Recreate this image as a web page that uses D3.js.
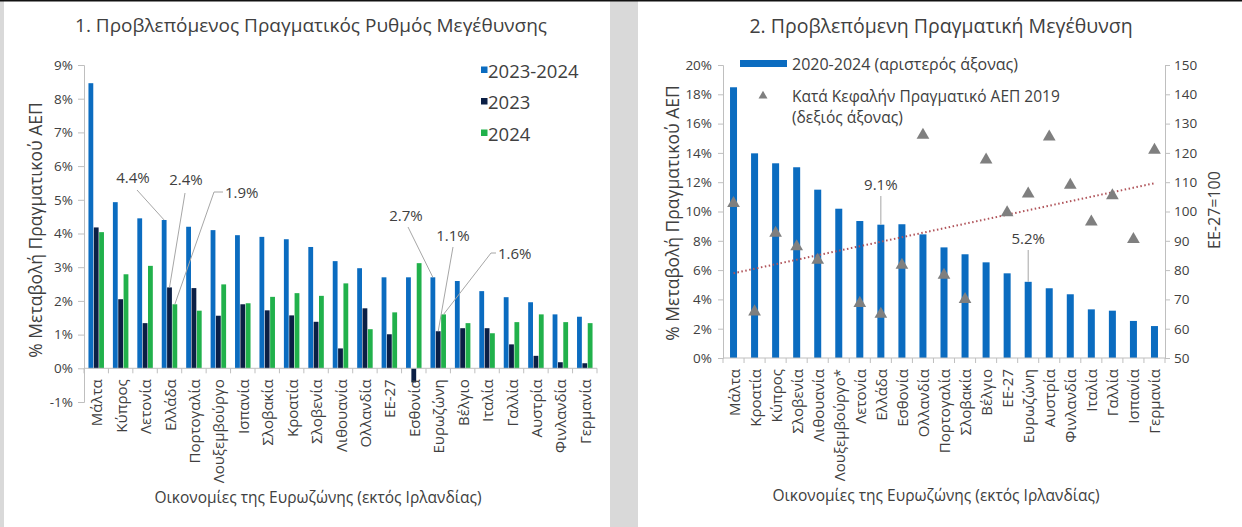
<!DOCTYPE html>
<html>
<head>
<meta charset="utf-8">
<script src="https://cdn.jsdelivr.net/npm/d3@7"></script>
<style>
    body { margin: 0; background: #d9d9d9; }
    svg { display: block; }
    text { font-family: 'Open Sans', 'Noto Sans', sans-serif; fill: #404040; }
</style>
</head>
<body>
<svg id="vis" width="1242" height="527"></svg>
<script>
/**
 * Data: chart 1 (growth 2023-2024).
 */
const growthCountries = ['Μάλτα', 'Κύπρος', 'Λετονία', 'Ελλάδα', 'Πορτογαλία', 'Λουξεμβούργο', 'Ισπανία',
    'Σλοβακία', 'Κροατία', 'Σλοβενία', 'Λιθουανία', 'Ολλανδία', 'ΕΕ-27', 'Εσθονία', 'Ευρωζώνη', 'Βέλγιο',
    'Ιταλία', 'Γαλλία', 'Αυστρία', 'Φινλανδία', 'Γερμανία'];
const growth2324 = [8.46, 4.93, 4.45, 4.4, 4.2, 4.1, 3.95, 3.9, 3.83, 3.6, 3.18, 2.97, 2.7, 2.7, 2.7, 2.59,
    2.29, 2.11, 1.96, 1.6, 1.53];
const growth23 = [4.18, 2.05, 1.34, 2.4, 2.38, 1.56, 1.9, 1.72, 1.57, 1.38, 0.59, 1.78, 1.01, -0.42, 1.1, 1.19,
    1.19, 0.71, 0.37, 0.18, 0.15];
const growth24 = [4.04, 2.79, 3.04, 1.9, 1.71, 2.49, 1.93, 2.12, 2.23, 2.15, 2.52, 1.16, 1.66, 3.12, 1.6, 1.34,
    1.04, 1.37, 1.6, 1.37, 1.34];
const growthSeries = ['2023-2024', '2023', '2024'];
const growthTicks = [-1, 0, 1, 2, 3, 4, 5, 6, 7, 8, 9];

/**
 * Data: chart 2 (cumulative growth 2020-2024 and GDP per capita 2019).
 */
const cumCountries = ['Μάλτα', 'Κροατία', 'Κύπρος', 'Σλοβενία', 'Λιθουανία', 'Λουξεμβούργο*', 'Λετονία',
    'Ελλάδα', 'Εσθονία', 'Ολλανδία', 'Πορτογαλία', 'Σλοβακία', 'Βέλγιο', 'ΕΕ-27', 'Ευρωζώνη', 'Αυστρία',
    'Φινλανδία', 'Ιταλία', 'Γαλλία', 'Ισπανία', 'Γερμανία'];
const cumGrowth = [18.48, 13.97, 13.29, 13.02, 11.49, 10.19, 9.35, 9.1, 9.13, 8.44, 7.55, 7.08, 6.53, 5.78,
    5.2, 4.76, 4.35, 3.32, 3.23, 2.53, 2.18];
const gdpPerCapita = [102.8, 65.8, 92.6, 88.0, 83.4, null, 68.7, 65.0, 81.7, 126.1, 78.3, 70.0, 117.6, 99.6,
    106.0, 125.5, 109.0, 96.5, 105.4, 90.5, 121.0];
const cumTicks = [0, 2, 4, 6, 8, 10, 12, 14, 16, 18, 20];
const gdpTicks = [50, 60, 70, 80, 90, 100, 110, 120, 130, 140, 150];

/**
 * Visual configs.
 */
const colors = { '2023-2024': '#0b6cc0', '2023': '#0b1f45', '2024': '#21b14b' },
    axisColor = '#bfbfbf',
    tickTextColor = '#595959',
    leaderColor = '#a6a6a6',
    triangleColor = '#7f7f7f',
    trendColor = '#b0545a';

const svg = d3.select('#vis');

// Panels
svg.append('rect').attr('x', 0).attr('y', 0).attr('width', 1242).attr('height', 527).attr('fill', '#d9d9d9');
svg.append('rect').attr('x', 4).attr('y', 1).attr('width', 606).attr('height', 526).attr('fill', '#fff');
svg.append('rect').attr('x', 638).attr('y', 1).attr('width', 604).attr('height', 526).attr('fill', '#fff');
svg.append('rect').attr('x', 0).attr('y', 0).attr('width', 1242).attr('height', 1.5).attr('fill', '#111');

/**
 * Helpers.
 */
function styleAxis(g) {
    g.select('.domain').attr('stroke', axisColor);
    g.selectAll('.tick line').attr('stroke', axisColor);
    g.selectAll('.tick text').attr('fill', tickTextColor).style('font-size', '13.5px');
}

function categoryAxis(g, x, y0, labelGap) {
    const [x0, x1] = x.range();
    g.append('line').attr('x1', x0).attr('x2', x1).attr('y1', y0).attr('y2', y0).attr('stroke', axisColor);
    g.selectAll('.cat-tick').data(d3.range(x.domain().length + 1)).join('line')
        .attr('class', 'cat-tick')
        .attr('x1', i => x0 + i * x.step()).attr('x2', i => x0 + i * x.step())
        .attr('y1', y0).attr('y2', y0 + 5)
        .attr('stroke', axisColor);
    g.selectAll('.cat-label').data(x.domain()).join('text')
        .attr('class', 'cat-label')
        .attr('transform', d => 'translate(' + (x(d) + x.bandwidth() / 2) + ',' + (y0 + labelGap) + ') rotate(-90)')
        .attr('text-anchor', 'end')
        .attr('dominant-baseline', 'central')
        .style('font-size', '15px')
        .text(d => d);
}

function leader(g, points) {
    g.append('path')
        .attr('d', d3.line()(points))
        .attr('fill', 'none')
        .attr('stroke', leaderColor)
        .attr('stroke-width', 1);
}

function label(g, x, y, text, anchor) {
    g.append('text').attr('x', x).attr('y', y)
        .attr('text-anchor', anchor || 'middle')
        .attr('dominant-baseline', 'central')
        .style('font-size', '15px')
        .text(text);
}

/**
 * Chart 1.
 */
(function() {
    const g = svg.append('g').attr('class', 'chart1');
    const x = d3.scaleBand().domain(growthCountries).range([84, 597]);
    const y = d3.scaleLinear().domain([-1, 9]).range([402, 65]);
    const groupWidth = 15.5;
    const xs = d3.scaleBand().domain(growthSeries).range([0, groupWidth]).paddingInner(0.1);
    const groupStart = d => x(d) + (x.bandwidth() - groupWidth) / 2;

    g.append('text').attr('x', 311).attr('y', 25).attr('text-anchor', 'middle')
        .attr('dominant-baseline', 'central').style('font-size', '19px')
        .text('1. Προβλεπόμενος Πραγματικός Ρυθμός Μεγέθυνσης');

    g.append('g').attr('transform', 'translate(84,0)')
        .call(d3.axisLeft(y).tickValues(growthTicks).tickFormat(d => d + '%').tickSize(6).tickPadding(5))
        .call(styleAxis);

    const seriesValues = { '2023-2024': growth2324, '2023': growth23, '2024': growth24 };
    growthSeries.forEach(s => {
        g.append('g').selectAll('rect').data(growthCountries).join('rect')
            .attr('x', d => groupStart(d) + xs(s))
            .attr('width', xs.bandwidth())
            .attr('y', (d, i) => y(Math.max(0, seriesValues[s][i])))
            .attr('height', (d, i) => Math.abs(y(seriesValues[s][i]) - y(0)))
            .attr('fill', colors[s]);
    });

    categoryAxis(g.append('g'), x, y(0), 11);

    g.append('text')
        .attr('transform', 'translate(35,' + 230 + ') rotate(-90)')
        .attr('text-anchor', 'middle').attr('dominant-baseline', 'central')
        .style('font-size', '17.5px')
        .text('% Μεταβολή Πραγματικού ΑΕΠ');

    g.append('text').attr('x', 318).attr('y', 497).attr('text-anchor', 'middle')
        .attr('dominant-baseline', 'central').style('font-size', '15.5px')
        .text('Οικονομίες της Ευρωζώνης  (εκτός Ιρλανδίας)');

    // Legend
    growthSeries.forEach((s, i) => {
        const ly = 70 + i * 31.5;
        g.append('rect').attr('x', 481).attr('y', ly - 3.5).attr('width', 6.5).attr('height', 6.5).attr('fill', colors[s]);
        g.append('text').attr('x', 488).attr('y', ly).attr('dominant-baseline', 'central')
            .style('font-size', '18.5px').text(s);
    });

    // Annotations
    const barTop = (country, s) => {
        const i = growthCountries.indexOf(country);
        return [groupStart(country) + xs(s) + xs.bandwidth() / 2, y(seriesValues[s][i])];
    };
    const ann = g.append('g');
    leader(ann, [[137, 190], barTop('Ελλάδα', '2023-2024')]);
    label(ann, 133, 177, '4.4%');
    leader(ann, [[185, 193], barTop('Ελλάδα', '2023')]);
    label(ann, 186, 179, '2.4%');
    leader(ann, [[223, 192], [214, 192], barTop('Ελλάδα', '2024')]);
    label(ann, 225, 192, '1.9%', 'start');
    leader(ann, [[408, 227], barTop('Ευρωζώνη', '2023-2024')]);
    label(ann, 406, 215, '2.7%');
    leader(ann, [[453, 247], barTop('Ευρωζώνη', '2023')]);
    label(ann, 453, 235, '1.1%');
    leader(ann, [[496, 253], [491, 253], barTop('Ευρωζώνη', '2024')]);
    label(ann, 498, 253, '1.6%', 'start');
})();

/**
 * Chart 2.
 */
(function() {
    const g = svg.append('g').attr('class', 'chart2');
    const x = d3.scaleBand().domain(cumCountries).range([723, 1165]);
    const yL = d3.scaleLinear().domain([0, 20]).range([358, 65]);
    const yR = d3.scaleLinear().domain([50, 150]).range([358, 65]);
    const barWidth = 7;
    const cx = d => x(d) + x.bandwidth() / 2;

    g.append('text').attr('x', 941).attr('y', 25).attr('text-anchor', 'middle')
        .attr('dominant-baseline', 'central').style('font-size', '19.5px')
        .text('2. Προβλεπόμενη Πραγματική Μεγέθυνση');

    g.append('g').attr('transform', 'translate(723,0)')
        .call(d3.axisLeft(yL).tickValues(cumTicks).tickFormat(d => d + '%').tickSize(5).tickPadding(6))
        .call(styleAxis);
    g.append('g').attr('transform', 'translate(1165,0)')
        .call(d3.axisRight(yR).tickValues(gdpTicks).tickSize(5).tickPadding(4))
        .call(styleAxis);

    g.append('g').selectAll('rect').data(cumCountries).join('rect')
        .attr('x', d => cx(d) - barWidth / 2)
        .attr('width', barWidth)
        .attr('y', (d, i) => yL(cumGrowth[i]))
        .attr('height', (d, i) => yL(0) - yL(cumGrowth[i]))
        .attr('fill', colors['2023-2024']);

    categoryAxis(g.append('g'), x, yL(0), 11);

    // Linear trend of GDP per capita across the ranking
    const pts = cumCountries.map((d, i) => [i, gdpPerCapita[i]]).filter(p => p[1] != null);
    const mx = d3.mean(pts, p => p[0]), my = d3.mean(pts, p => p[1]);
    const slope = d3.sum(pts, p => (p[0] - mx) * (p[1] - my)) / d3.sum(pts, p => (p[0] - mx) * (p[0] - mx));
    const trend = i => my + slope * (i - mx);
    const last = cumCountries.length - 1;
    g.append('line')
        .attr('x1', cx(cumCountries[0])).attr('y1', yR(trend(0)))
        .attr('x2', cx(cumCountries[last])).attr('y2', yR(trend(last)))
        .attr('stroke', trendColor).attr('stroke-width', 2)
        .attr('stroke-dasharray', '1.5,2.5');

    const tri = d3.symbol(d3.symbolTriangle).size(70);
    g.append('g').selectAll('path').data(cumCountries.filter((d, i) => gdpPerCapita[i] != null)).join('path')
        .attr('d', tri)
        .attr('transform', d => 'translate(' + cx(d) + ',' + yR(gdpPerCapita[cumCountries.indexOf(d)]) + ')')
        .attr('fill', triangleColor);

    g.append('text')
        .attr('transform', 'translate(672,213) rotate(-90)')
        .attr('text-anchor', 'middle').attr('dominant-baseline', 'central')
        .style('font-size', '17.5px')
        .text('% Μεταβολή Πραγματικού ΑΕΠ');
    g.append('text')
        .attr('transform', 'translate(1214,210) rotate(-90)')
        .attr('text-anchor', 'middle').attr('dominant-baseline', 'central')
        .style('font-size', '16px')
        .text('ΕΕ-27=100');

    g.append('text').attr('x', 936).attr('y', 495).attr('text-anchor', 'middle')
        .attr('dominant-baseline', 'central').style('font-size', '15.5px')
        .text('Οικονομίες της Ευρωζώνης  (εκτός Ιρλανδίας)');

    // Legend
    g.append('rect').attr('x', 740).attr('y', 60).attr('width', 47).attr('height', 7).attr('fill', colors['2023-2024']);
    g.append('text').attr('x', 792).attr('y', 63.5).attr('dominant-baseline', 'central')
        .style('font-size', '16px').text('2020-2024 (αριστερός άξονας)');
    g.append('path').attr('d', d3.symbol(d3.symbolTriangle).size(35))
        .attr('transform', 'translate(763,96)').attr('fill', triangleColor);
    g.append('text').attr('x', 792).attr('y', 95.5).attr('dominant-baseline', 'central')
        .style('font-size', '15.5px').text('Κατά Κεφαλήν Πραγματικό ΑΕΠ 2019');
    g.append('text').attr('x', 792).attr('y', 117).attr('dominant-baseline', 'central')
        .style('font-size', '15.5px').text('(δεξιός άξονας)');

    // Annotations
    const barTop = country => [cx(country), yL(cumGrowth[cumCountries.indexOf(country)])];
    const ann = g.append('g');
    leader(ann, [[cx('Ελλάδα'), 196], barTop('Ελλάδα')]);
    label(ann, cx('Ελλάδα'), 184, '9.1%');
    leader(ann, [[cx('Ευρωζώνη'), 250], barTop('Ευρωζώνη')]);
    label(ann, cx('Ευρωζώνη'), 238, '5.2%');
})();
</script>
</body>
</html>
